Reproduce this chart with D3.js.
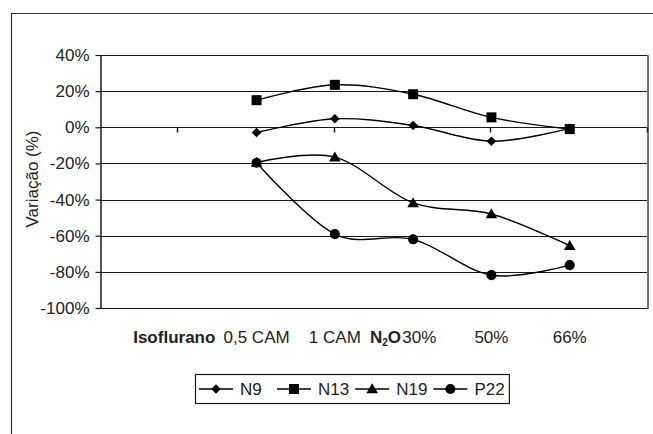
<!DOCTYPE html>
<html>
<head>
<meta charset="utf-8">
<script src="https://cdn.jsdelivr.net/npm/d3@7"></script>
<style>
  body { margin: 0; background: #fff; }
  svg { display: block; font-family: "Liberation Sans", Arial, sans-serif; }
</style>
</head>
<body>
<svg width="653" height="434"></svg>
<script>
// categories on the x axis (first and last are empty slots)
const categories = ['c0', 'iso', 'cam05', 'cam1', 'n2o30', 'n2o50', 'n2o66', 'c7'];
const categoryLabels = ['', 'Isoflurano', '0,5 CAM', '1 CAM', 'N2O 30%', '50%', '66%', ''];
const pointCategories = ['cam05', 'cam1', 'n2o30', 'n2o50', 'n2o66'];

const seriesNames = ['N9', 'N13', 'N19', 'P22'];
const N9 = [-2.9, 4.7, 1.0, -7.7, -0.6];
const N13 = [15.0, 23.5, 18.3, 5.5, -1.0];
const N19 = [-19.4, -16.5, -41.8, -48.0, -65.5];
const P22 = [-19.6, -59.1, -62.0, -81.8, -76.3];

const yTicks = [-100, -80, -60, -40, -20, 0, 20, 40];
const markerTypes = ['diamond', 'square', 'triangle', 'circle'];

(function(d3) {
    'use strict';

    const svg = d3.select('svg');
    const ink = '#1a1a1a';

    const x = d3.scalePoint().domain(categories).range([100, 648]);
    const y = d3.scaleLinear().domain([-100, 40]).range([308, 55]);

    // outer chart frame (only top and left are in view)
    svg.append('path')
        .attr('d', 'M11.5,434 V13.5 H653')
        .attr('fill', 'none')
        .attr('stroke', '#333')
        .attr('stroke-width', 1.2);

    // gridlines
    svg.append('g').selectAll('line').data(yTicks)
        .enter().append('line')
        .attr('x1', x.range()[0]).attr('x2', x.range()[1])
        .attr('y1', d => Math.round(y(d)) + 0.5)
        .attr('y2', d => Math.round(y(d)) + 0.5)
        .attr('stroke', ink)
        .attr('stroke-width', 1.2);

    // plot area right edge
    svg.append('line')
        .attr('x1', 648).attr('x2', 648)
        .attr('y1', y(40)).attr('y2', y(-100) + 1)
        .attr('stroke', '#777')
        .attr('stroke-width', 2);

    // y axis
    const yAxis = d3.axisLeft(y)
        .tickValues(yTicks)
        .tickFormat(d => d + '%')
        .tickSize(5)
        .tickSizeOuter(0)
        .tickPadding(6);
    const yAxisG = svg.append('g')
        .attr('transform', 'translate(100.5,0)')
        .call(yAxis);
    yAxisG.select('.domain').attr('stroke', ink).attr('stroke-width', 1.5);
    yAxisG.selectAll('.tick line').attr('stroke', ink).attr('stroke-width', 1.2);
    yAxisG.selectAll('.tick text')
        .attr('fill', '#222')
        .style('font-size', '17px')
        .style('font-family', '"Liberation Sans", Arial, sans-serif');

    // zero line ticks (every second category)
    const zeroY = Math.round(y(0)) + 0.5;
    svg.append('g').selectAll('line')
        .data(categories.filter((d, i) => i % 2 === 1))
        .enter().append('line')
        .attr('x1', d => Math.round(x(d)) - 0.5)
        .attr('x2', d => Math.round(x(d)) - 0.5)
        .attr('y1', zeroY).attr('y2', zeroY + 5)
        .attr('stroke', ink)
        .attr('stroke-width', 1.5);

    // category labels
    const labelG = svg.append('g')
        .style('font-size', '17px')
        .attr('fill', '#222');
    categories.forEach((c, i) => {
        const label = categoryLabels[i];
        if (!label) return;
        const t = labelG.append('text')
            .attr('x', x(c))
            .attr('y', 343)
            .attr('text-anchor', 'middle');
        if (c === 'iso') {
            t.attr('dx', -4).style('font-weight', 'bold').text(label);
        } else if (c === 'n2o30') {
            t.attr('dx', -10);
            t.append('tspan').style('font-weight', 'bold').text('N');
            t.append('tspan').style('font-weight', 'bold').style('font-size', '10px')
                .attr('dy', 3).text('2');
            t.append('tspan').style('font-weight', 'bold').attr('dy', -3).text('O');
            t.append('tspan').text('\u200A30%');
        } else {
            t.text(label);
        }
    });

    // y axis title
    svg.append('text')
        .attr('transform', 'translate(38,179) rotate(-90)')
        .attr('text-anchor', 'middle')
        .style('font-size', '17px')
        .attr('fill', '#222')
        .text('Variação (%)');

    // marker shapes
    const diamond = {
        draw(context, size) {
            const r = Math.sqrt(size / 2);
            context.moveTo(0, -r);
            context.lineTo(r, 0);
            context.lineTo(0, r);
            context.lineTo(-r, 0);
            context.closePath();
        }
    };
    const symbolFor = {
        diamond: d3.symbol().type(diamond).size(46),
        square: d3.symbol().type(d3.symbolSquare).size(100),
        triangle: d3.symbol().type(d3.symbolTriangle).size(58),
        circle: d3.symbol().type(d3.symbolCircle).size(80)
    };

    const seriesValues = [N9, N13, N19, P22];
    const series = seriesNames.map((name, i) => ({
        name,
        marker: markerTypes[i],
        points: seriesValues[i].map((v, j) => ({ cat: pointCategories[j], value: v }))
    }));

    const line = d3.line()
        .x(d => x(d.cat))
        .y(d => y(d.value))
        .curve(d3.curveCatmullRom.alpha(0));

    const seriesG = svg.append('g').selectAll('g').data(series)
        .enter().append('g');

    seriesG.append('path')
        .attr('d', d => line(d.points))
        .attr('fill', 'none')
        .attr('stroke', '#000')
        .attr('stroke-width', 1.4);

    seriesG.each(function(s) {
        d3.select(this).selectAll('path.marker').data(s.points)
            .enter().append('path')
            .attr('class', 'marker')
            .attr('transform', d => `translate(${x(d.cat)},${y(d.value) + (s.marker === 'triangle' ? 1 : 0)})`)
            .attr('d', symbolFor[s.marker]())
            .attr('fill', '#000');
    });

    // legend
    const legendG = svg.append('g');
    const legendBox = legendG.append('rect')
        .attr('x', 195.5).attr('y', 374.5)
        .attr('height', 29)
        .attr('fill', '#fff')
        .attr('stroke', ink)
        .attr('stroke-width', 1.2);

    let lx = 199;
    const ly = 389;
    series.forEach(s => {
        legendG.append('line')
            .attr('x1', lx).attr('x2', lx + 34)
            .attr('y1', ly).attr('y2', ly)
            .attr('stroke', '#000')
            .attr('stroke-width', 1.4);
        legendG.append('path')
            .attr('transform', `translate(${lx + 17},${ly + (s.marker === 'triangle' ? 1 : 0)})`)
            .attr('d', symbolFor[s.marker]())
            .attr('fill', '#000');
        const txt = legendG.append('text')
            .attr('x', lx + 41)
            .attr('y', ly + 6)
            .style('font-size', '17px')
            .attr('fill', '#222')
            .text(s.name);
        const end = lx + 41 + txt.node().getComputedTextLength();
        lx = Math.max(end + 6, lx + 78);
    });
    legendBox.attr('width', lx - 6 + 4 - 195.5);

}(d3));
</script>
</body>
</html>
